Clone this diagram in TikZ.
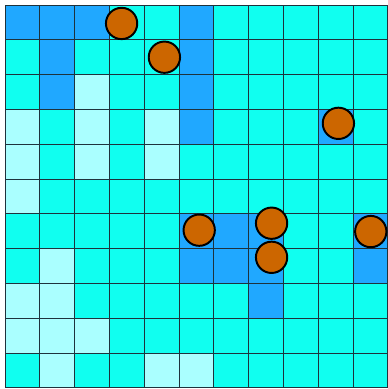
\documentclass[tikz,border=0pt]{standalone}
\usepackage{tikz}

\definecolor{patch0}{RGB}{16,255,240}
\definecolor{patch1}{RGB}{32,168,255}
\definecolor{patch2}{RGB}{170,255,255}
\definecolor{agentfill}{RGB}{204,102,0}
\definecolor{gridline}{RGB}{30,50,60}

\begin{document}
\begin{tikzpicture}[
    cell/.style={draw=gridline, line width=0.7pt},
    agent/.style={circle, draw=black, line width=1.6pt, fill=agentfill,
        minimum size=0.9cm, inner sep=0pt}
]
    \useasboundingbox (-0.144, 0.144) rectangle (10.977, -11.034);
    % sugar levels, row by row from the top
    \foreach \row [count=\r from 0] in {
        {1,1,1,0,0,1,0,0,0,0,0},
        {0,1,0,0,0,1,0,0,0,0,0},
        {0,1,2,0,0,1,0,0,0,0,0},
        {2,0,2,0,2,1,0,0,0,1,0},
        {2,0,2,0,2,0,0,0,0,0,0},
        {2,0,0,0,0,0,0,0,0,0,0},
        {0,0,0,0,0,1,1,1,0,0,1},
        {0,2,0,0,0,1,1,1,0,0,1},
        {2,2,0,0,0,0,0,1,0,0,0},
        {2,2,2,0,0,0,0,0,0,0,0},
        {0,2,0,0,2,2,0,0,0,0,0}} {
        \foreach \v [count=\c from 0] in \row {
            \draw[cell, fill=patch\v] (\c, -\r) rectangle ++(1, -1);
        }
    }

    % agents
    \node[agent] (a1) at (3.35, -0.53) {};
    \node[agent] (a2) at (4.58, -1.50) {};
    \node[agent] (a3) at (9.58, -3.40) {};
    \node[agent] (a4) at (5.58, -6.47) {};
    \node[agent] (a5) at (7.66, -6.27) {};
    \node[agent] (a6) at (7.66, -7.25) {};
    \node[agent] (a7) at (10.51, -6.51) {};
\end{tikzpicture}
\end{document}
